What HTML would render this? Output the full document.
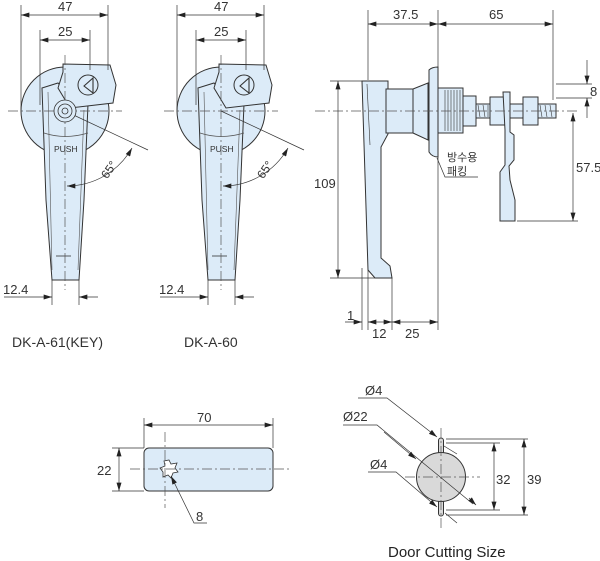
<!DOCTYPE html>
<html><head><meta charset="utf-8"><style>
html,body{margin:0;padding:0;background:#fff;}
svg{display:block;font-family:"Liberation Sans","Noto Sans CJK KR",sans-serif;}
</style></head><body>
<svg width="600" height="561" viewBox="0 0 600 561" xmlns="http://www.w3.org/2000/svg">
<defs>
<marker id="a" viewBox="0 0 10 6" refX="10" refY="3" markerWidth="9" markerHeight="5" orient="auto-start-reverse" markerUnits="userSpaceOnUse"><path d="M0,0 L10,3 L0,6z" fill="#222"/></marker>
<g id="lever">
 <circle cx="65" cy="111" r="44" fill="#dcebf8" stroke="#333" stroke-width="1"/>
 <path d="M42,88 L58,83 L72,100 L88,104 L84,200 L79,280 L52,280 L46,200 Z" fill="#dcebf8" stroke="#333" stroke-width="1"/>
 <path d="M48,92 L52,270 M84,110 L78,270" stroke="#555" stroke-width="0.6" fill="none"/>
 <path d="M44,133 Q65,140 88,133" stroke="#555" stroke-width="0.7" fill="none"/>
 <path d="M56,256 L71,256" stroke="#333" stroke-width="0.8"/>
 <path d="M63,64 L110,65 L116,85 L113,103 L70,108 L58,88 L63,72 Z" fill="#dcebf8" stroke="#333" stroke-width="1"/>
 <circle cx="88" cy="85" r="10" fill="none" stroke="#333" stroke-width="1"/>
 <path d="M84,86 L93,78 L93,93 Z" fill="none" stroke="#333" stroke-width="1.1"/>
 <text x="54" y="152" font-size="8.5" fill="#333">PUSH</text>
 <g stroke="#555" stroke-width="0.7" stroke-dasharray="10,3,2,3" fill="none">
  <path d="M8,111 L122,111"/><path d="M65,55 L65,290"/>
 </g>
 <path d="M65,111 L148,150" stroke="#333" stroke-width="0.7"/>
 <path d="M67,186 A75,75 0 0 0 132,148" stroke="#333" stroke-width="0.7" fill="none" marker-start="url(#a)" marker-end="url(#a)"/>
 <text x="98" y="178" font-size="12" fill="#333" transform="rotate(-55 104 170)">65°</text>
 <g stroke="#333" stroke-width="0.7" fill="none">
  <path d="M21,5 L21,110"/><path d="M108,5 L108,70"/>
  <path d="M40,30 L40,105"/><path d="M90,30 L90,70"/>
  <path d="M21,15 L108,15" marker-start="url(#a)" marker-end="url(#a)"/>
  <path d="M40,40 L90,40" marker-start="url(#a)" marker-end="url(#a)"/>
  <path d="M52,280 L52,305"/><path d="M79,280 L79,305"/>
  <path d="M4,297 L52,297" marker-end="url(#a)"/>
  <path d="M98,297 L79,297" marker-end="url(#a)"/>
 </g>
 <text x="58" y="11" font-size="13" fill="#333">47</text>
 <text x="58" y="36" font-size="13" fill="#333">25</text>
 <text x="3" y="294" font-size="13" fill="#333">12.4</text>
</g>
</defs>

<use href="#lever"/>
<g>
 <circle cx="65" cy="111" r="11" fill="#dcebf8" stroke="#333" stroke-width="0.8"/>
 <circle cx="65" cy="111" r="7" fill="none" stroke="#333" stroke-width="0.8"/>
 <circle cx="65" cy="111" r="3" fill="none" stroke="#333" stroke-width="0.8"/>
</g>
<use href="#lever" transform="translate(156,0)"/>
<text x="12" y="347" font-size="14" fill="#333">DK-A-61(KEY)</text>
<text x="184" y="347" font-size="14" fill="#333">DK-A-60</text>

<!-- side view -->
<g stroke="#333" stroke-width="1" fill="#dcebf8">
 <path d="M362,81 L388,81 L388,134 L381,147 L381,258 L390,266 L392,278 L375,278 L368,270 Z"/>
 <rect x="386" y="89" width="28" height="44"/>
 <path d="M413,89 L428,83 L428,140 L413,133 Z"/>
 <path d="M429,70 Q432,67 438,67 L438,157 Q432,157 429,152 Z"/>
 <rect x="438" y="88" width="25" height="45"/>
 <rect x="463" y="96" width="13" height="30"/>
 <rect x="476" y="104" width="80" height="14"/>
 <rect x="490" y="97" width="15" height="28"/>
 <rect x="523" y="97" width="15" height="28"/>
 <path d="M503,92 L510,92 L510,132 L514,135 L514,160 L509,166 L510,180 L515,200 L515,221 L500,221 L500,172 L505,165 L505,130 Z"/>
</g>
<g stroke="#333" stroke-width="0.6" fill="none">
 <path d="M445,90 V131 M448,90 V131 M451,90 V131 M454,90 V131 M457,90 V131 M460,90 V131"/>
 <path d="M478,105 L480,117 M483,105 L485,117 M488,105 L488,117 M540,105 L542,117 M545,105 L547,117 M550,105 L552,117"/>
 <path d="M367,84 L370,145"/>
</g>
<g stroke="#555" stroke-width="0.7" stroke-dasharray="10,3,2,3" fill="none"><path d="M315,111 L580,111"/></g>
<g stroke="#333" stroke-width="0.7" fill="none">
 <path d="M368,10 L368,80"/><path d="M438,10 L438,330"/><path d="M553,10 L553,100"/>
 <path d="M368,24 L438,24" marker-start="url(#a)" marker-end="url(#a)"/>
 <path d="M438,24 L553,24" marker-start="url(#a)" marker-end="url(#a)"/>
 <path d="M330,81 L362,81"/><path d="M330,278 L392,278"/>
 <path d="M338,81 L338,278" marker-start="url(#a)" marker-end="url(#a)"/>
 <path d="M556,84 L592,84"/><path d="M556,98 L592,98"/>
 <path d="M587,60 L587,84" marker-end="url(#a)"/><path d="M587,118 L587,98" marker-end="url(#a)"/>
 <path d="M517,221 L578,221"/>
 <path d="M573,113 L573,221" marker-start="url(#a)" marker-end="url(#a)"/>
 <path d="M362,268 L362,330"/><path d="M368,270 L368,330"/><path d="M392,278 L392,330"/>
 <path d="M345,322 L362,322" marker-end="url(#a)"/>
 <path d="M368,322 L392,322" marker-start="url(#a)" marker-end="url(#a)"/>
 <path d="M392,322 L438,322" marker-start="url(#a)" marker-end="url(#a)"/>
 <path d="M437,158 L445,177 L478,177"/>
</g>
<text x="393" y="19" font-size="13" fill="#333">37.5</text>
<text x="489" y="19" font-size="13" fill="#333">65</text>
<text x="590" y="96" font-size="13" fill="#333">8</text>
<text x="576" y="172" font-size="13" fill="#333">57.5</text>
<text x="314" y="188" font-size="13" fill="#333">109</text>
<text x="347" y="320" font-size="13" fill="#333">1</text>
<text x="372" y="338" font-size="13" fill="#333">12</text>
<text x="405" y="338" font-size="13" fill="#333">25</text>
<text x="447" y="161" font-size="11" fill="#333">방수용</text>
<text x="447" y="175" font-size="11" fill="#333">패킹</text>

<!-- plate -->
<rect x="144" y="448" width="129" height="43" rx="5" fill="#dcebf8" stroke="#333" stroke-width="1"/>
<path d="M169,460 L171,464 L177,463 L175,468 L178,472 L173,473 L171,478 L168,475 L163,477 L163,472 L160,468 L165,466 L164,461 Z" fill="#fff" stroke="#333" stroke-width="0.8"/>
<g stroke="#555" stroke-width="0.7" stroke-dasharray="10,3,2,3" fill="none"><path d="M130,469 L292,469"/><path d="M165,432 L165,508"/></g>
<g stroke="#333" stroke-width="0.7" fill="none">
 <path d="M144,418 L144,448"/><path d="M273,418 L273,448"/>
 <path d="M144,425 L273,425" marker-start="url(#a)" marker-end="url(#a)"/>
 <path d="M112,448 L144,448"/><path d="M112,491 L144,491"/>
 <path d="M119,448 L119,491" marker-start="url(#a)" marker-end="url(#a)"/>
 <path d="M207,523 L194,523 L171,476" marker-end="url(#a)"/>
</g>
<text x="197" y="422" font-size="13" fill="#333">70</text>
<text x="97" y="475" font-size="13" fill="#333">22</text>
<text x="196" y="521" font-size="13" fill="#333">8</text>

<!-- door cutting -->
<g fill="#d9d9d9" stroke="#333" stroke-width="1">
 <rect x="438.5" y="438" width="5" height="20" rx="2.5"/>
 <rect x="438.5" y="496" width="5" height="20" rx="2.5"/>
 <circle cx="441" cy="477" r="24.5"/>
</g>
<g stroke="#555" stroke-width="0.7" stroke-dasharray="10,3,2,3" fill="none"><path d="M405,477 L480,477"/><path d="M441,428 L441,530"/></g>
<g stroke="#333" stroke-width="0.7" fill="none">
 <path d="M446,439 L528,439"/><path d="M446,443 L500,443"/><path d="M446,510 L500,510"/><path d="M446,515 L528,515"/>
 <path d="M494,443 L494,510" marker-start="url(#a)" marker-end="url(#a)"/>
 <path d="M524,439 L524,515" marker-start="url(#a)" marker-end="url(#a)"/>
 <path d="M358,398 L387,398 L437,437" marker-end="url(#a)"/>
 <path d="M444,446 L457,454"/>
 <path d="M343,425 L377,425 L473,504"/>
 <path d="M384,432 L416,459" marker-end="url(#a)"/>
 <path d="M476,505 L469,498" marker-start="url(#a)"/>
 <path d="M368,472 L396,472 L437,507" marker-end="url(#a)"/>
 <path d="M445,513 L457,523"/>
</g>
<text x="365" y="395" font-size="13" fill="#333">Ø4</text>
<text x="343" y="421" font-size="13" fill="#333">Ø22</text>
<text x="370" y="469" font-size="13" fill="#333">Ø4</text>
<text x="496" y="484" font-size="13" fill="#333">32</text>
<text x="527" y="484" font-size="13" fill="#333">39</text>
<text x="388" y="557" font-size="15" fill="#222">Door Cutting Size</text>
</svg>
</body></html>
